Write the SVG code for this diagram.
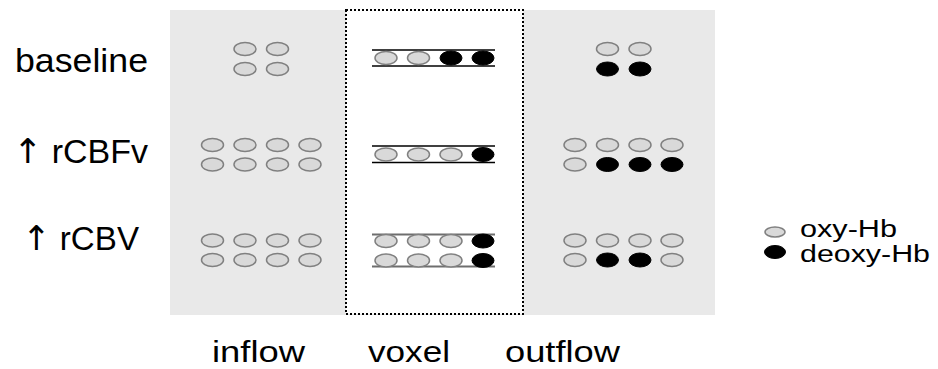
<svg xmlns="http://www.w3.org/2000/svg" xmlns:xlink="http://www.w3.org/1999/xlink" width="938" height="369" viewBox="0 0 938 369">
<style>
.lbl{font-family:"Liberation Sans",Arial,sans-serif;font-size:33px;fill:#000}
.col{font-family:"Liberation Sans",Arial,sans-serif;font-size:30px;fill:#000}
.arr{font-family:"DejaVu Sans",sans-serif;font-size:34px}
.leg{font-family:"Liberation Sans",Arial,sans-serif;font-size:23px;fill:#000}
.oxy{fill:#d9d9d9;stroke:#808080;stroke-width:1.5}
.deo{fill:#000;stroke:#000;stroke-width:1}
.vl{stroke:#000;stroke-width:1.5}
.vg{stroke:#6e6e6e;stroke-width:2}
</style>
<defs>
<ellipse id="o" class="oxy" rx="11" ry="6.5"/>
<ellipse id="d" class="deo" rx="11" ry="7"/>
</defs>
<rect id="bg" x="170" y="10" width="545" height="305" fill="#e9e9e9"/>
<g id="voxel-box">
<rect x="346" y="10" width="177" height="304" fill="#fff" stroke="#000" stroke-width="2" stroke-dasharray="2,2"/>
</g>
<g id="row-labels">
<text class="lbl" x="15" y="72" textLength="133" lengthAdjust="spacingAndGlyphs">baseline</text>
<text class="lbl" x="13" y="163" textLength="135" lengthAdjust="spacingAndGlyphs"><tspan class="arr">↑</tspan> rCBFv</text>
<text class="lbl" x="22" y="250" textLength="117" lengthAdjust="spacingAndGlyphs"><tspan class="arr">↑</tspan> rCBV</text>
</g>
<g id="col-labels">
<text class="col" x="212" y="362" textLength="93" lengthAdjust="spacingAndGlyphs">inflow</text>
<text class="col" x="368" y="362" textLength="82" lengthAdjust="spacingAndGlyphs">voxel</text>
<text class="col" x="505" y="362" textLength="115" lengthAdjust="spacingAndGlyphs">outflow</text>
</g>
<g id="inflow">
<use href="#o" x="245" y="49"/><use href="#o" x="277.5" y="49"/>
<use href="#o" x="245" y="69"/><use href="#o" x="277.5" y="69"/>
<use href="#o" x="212.5" y="145"/><use href="#o" x="245" y="145"/><use href="#o" x="277.5" y="145"/><use href="#o" x="310" y="145"/>
<use href="#o" x="212.5" y="164.5"/><use href="#o" x="245" y="164.5"/><use href="#o" x="277.5" y="164.5"/><use href="#o" x="310" y="164.5"/>
<use href="#o" x="212.5" y="240.5"/><use href="#o" x="245" y="240.5"/><use href="#o" x="277.5" y="240.5"/><use href="#o" x="310" y="240.5"/>
<use href="#o" x="212.5" y="260"/><use href="#o" x="245" y="260"/><use href="#o" x="277.5" y="260"/><use href="#o" x="310" y="260"/>
</g>
<g id="voxel">
<line class="vl" x1="372" y1="50" x2="495" y2="50"/><line class="vl" x1="372" y1="66" x2="495" y2="66"/>
<use href="#o" x="386" y="58"/><use href="#o" x="418.5" y="58"/><use href="#d" x="451" y="58"/><use href="#d" x="483" y="58"/>
<line class="vl" x1="372" y1="146" x2="495" y2="146"/><line class="vl" x1="372" y1="162.5" x2="495" y2="162.5"/>
<use href="#o" x="386" y="154.5"/><use href="#o" x="418.5" y="154.5"/><use href="#o" x="451" y="154.5"/><use href="#d" x="483" y="154.5"/>
<line class="vg" x1="372" y1="234.5" x2="495" y2="234.5"/><line class="vg" x1="372" y1="266.5" x2="495" y2="266.5"/>
<use href="#o" x="386" y="241"/><use href="#o" x="418.5" y="241"/><use href="#o" x="451" y="241"/><use href="#d" x="483" y="241"/>
<use href="#o" x="386" y="260.5"/><use href="#o" x="418.5" y="260.5"/><use href="#o" x="451" y="260.5"/><use href="#d" x="483" y="260.5"/>
</g>
<g id="outflow">
<use href="#o" x="607.5" y="49"/><use href="#o" x="640" y="49"/>
<use href="#d" x="607.5" y="69"/><use href="#d" x="640" y="69"/>
<use href="#o" x="575" y="145"/><use href="#o" x="607.5" y="145"/><use href="#o" x="640" y="145"/><use href="#o" x="672" y="145"/>
<use href="#o" x="575" y="164.5"/><use href="#d" x="607.5" y="164.5"/><use href="#d" x="640" y="164.5"/><use href="#d" x="672" y="164.5"/>
<use href="#o" x="575" y="240.5"/><use href="#o" x="607.5" y="240.5"/><use href="#o" x="640" y="240.5"/><use href="#o" x="672" y="240.5"/>
<use href="#o" x="575" y="260"/><use href="#d" x="607.5" y="260"/><use href="#d" x="640" y="260"/><use href="#o" x="672" y="260"/>
</g>
<g id="legend">
<ellipse class="oxy" cx="775" cy="232" rx="10" ry="5"/>
<ellipse class="deo" cx="775" cy="252" rx="10.5" ry="6.5"/>
<text class="leg" x="800" y="237" textLength="97" lengthAdjust="spacingAndGlyphs">oxy-Hb</text>
<text class="leg" x="800" y="262" textLength="130" lengthAdjust="spacingAndGlyphs">deoxy-Hb</text>
</g>
</svg>
